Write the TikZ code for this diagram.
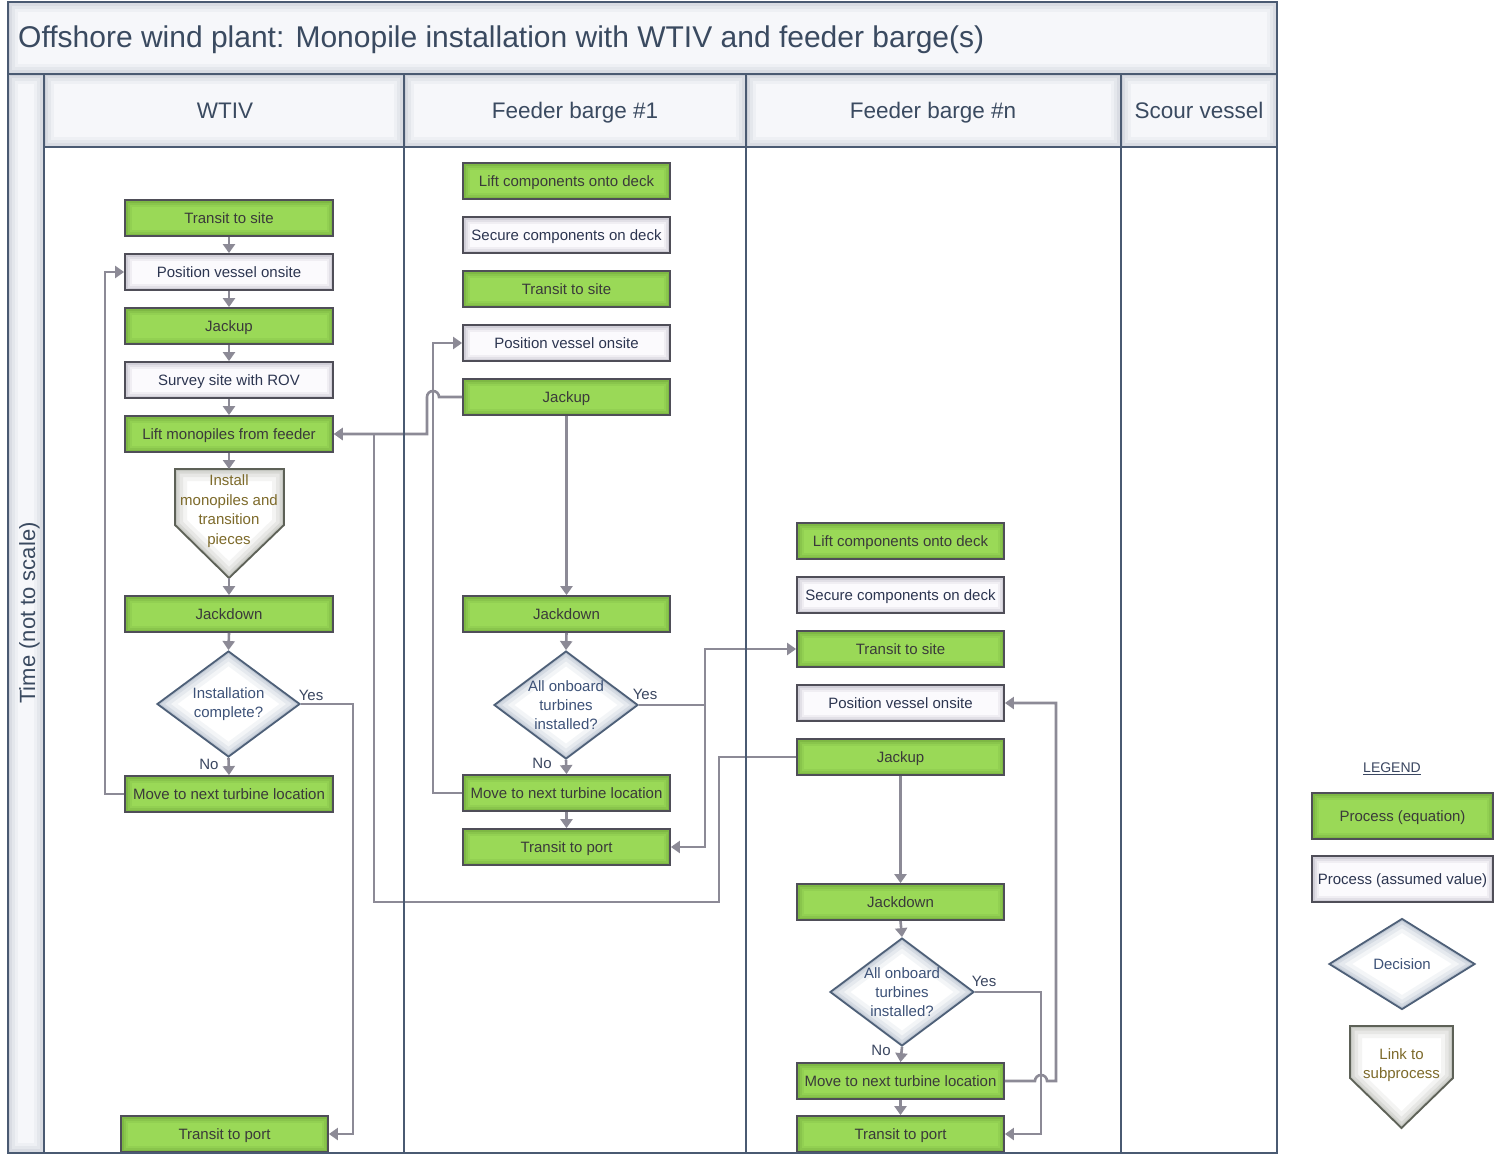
\documentclass[tikz,border=0pt]{standalone}
\usepackage{fontspec}
\setmainfont{Liberation Sans}
\usetikzlibrary{arrows.meta,shapes.geometric}
\definecolor{laneline}{HTML}{4A5A72}
\definecolor{hdrfill}{HTML}{F6F7FA}
\definecolor{hdrglow}{HTML}{7A8398}
\definecolor{titletext}{HTML}{3A4A60}
\definecolor{pgreen}{HTML}{9AD957}
\definecolor{pgreenglow}{HTML}{3F6A1A}
\definecolor{pgrey}{HTML}{FBFAFD}
\definecolor{pgreyglow}{HTML}{6F6882}
\definecolor{boxline}{HTML}{4F4E58}
\definecolor{greentext}{HTML}{3A3A3A}
\definecolor{greytext}{HTML}{2C3550}
\definecolor{decline}{HTML}{4E6078}
\definecolor{decglow}{HTML}{6F82A0}
\definecolor{dectext}{HTML}{3D5278}
\definecolor{linkline}{HTML}{5D6157}
\definecolor{linkglow}{HTML}{7C7E72}
\definecolor{linktext}{HTML}{7D6A2A}
\definecolor{connc}{HTML}{8C8A96}
\definecolor{labeltext}{HTML}{3A4660}
\tikzset{
  glow/.style={path picture={
    \foreach \w/\o in {13/.08,9/.1,5/.14,2/.2}{
      \draw[#1,line width=\w pt,opacity=\o] (path picture bounding box.south west) rectangle (path picture bounding box.north east);}}},
  hglow/.style={path picture={
    \foreach \w/\o in {20/.06,14/.08,8/.1,3/.14}{
      \draw[#1,line width=\w pt,opacity=\o] (path picture bounding box.south west) rectangle (path picture bounding box.north east);}}},
  dglow/.style={path picture={
    \foreach \w/\o in {24/.08,16/.1,9/.14,4/.2}{
      \draw[#1,line width=\w pt,opacity=\o,line join=miter] (path picture bounding box.north) -- (path picture bounding box.east) -- (path picture bounding box.south) -- (path picture bounding box.west) -- cycle;}}},
  box/.style={draw=boxline,line width=1.8pt,minimum width=208pt,minimum height=36pt,inner sep=0pt,text height=13pt,text depth=3pt,font=\fontsize{15}{18}\selectfont},
  gbox/.style={box,fill=pgreen,text=greentext,glow=pgreenglow},
  wbox/.style={box,fill=pgrey,text=greytext,glow=pgreyglow},
  decision/.style={diamond,draw=decline,line width=1.8pt,fill=white,dglow=decglow,inner sep=0pt,minimum width=144pt,minimum height=106pt},
  dtext/.style={text=dectext,font=\fontsize{15}{19}\selectfont,align=center},
  ltext/.style={text=linktext,font=\fontsize{15}{19.5}\selectfont,align=center,inner sep=0pt},
  cn/.style={draw=connc,line width=2.6pt},
  arr/.style={cn,-{Triangle[width=12pt,length=9pt]}},
  yn/.style={text=labeltext,font=\fontsize{15}{18}\selectfont,inner sep=0pt},
  lane/.style={draw=laneline,line width=2.6pt},
  hdr/.style={fill=hdrfill,hglow=hdrglow},
  hdrtext/.style={text=titletext,font=\fontsize{22.5}{26}\selectfont,anchor=base,inner sep=0pt}
}
\def\wlink{(175,469) -- (284,469) -- (284,525) -- (229,578) -- (175,525) -- cycle}
\def\llink{(1350,1026) -- (1453,1026) -- (1453,1078) -- (1401.5,1128) -- (1350,1078) -- cycle}
\begin{document}
\begin{tikzpicture}[x=1pt,y=-1pt]
\useasboundingbox (0,0) rectangle (1495,1156);
\fill[white] (0,0) rectangle (1495,1156);
% title and headers
\path[hdr] (8,2) rectangle (1277,74);
\path[hdr] (8,74) rectangle (44,1153);
\path[hdr] (44,74) rectangle (404,147);
\path[hdr] (404,74) rectangle (746,147);
\path[hdr] (746,74) rectangle (1121,147);
\path[hdr] (1121,74) rectangle (1277,147);
\node[anchor=base west,text=titletext,font=\fontsize{30}{34}\selectfont,inner sep=0pt] (title) at (18,48) {Offshore wind plant: Monopile installation with WTIV and feeder barge(s)};
\node[rotate=90,anchor=base,text=titletext,font=\fontsize{22}{26}\selectfont,inner sep=0pt] (time) at (35,613) {Time (not to scale)};
\node[hdrtext] (hw) at (225,118) {WTIV};
\node[hdrtext] (ha) at (575,118) {Feeder barge \#1};
\node[hdrtext] (hb) at (933,118) {Feeder barge \#n};
\node[hdrtext] (hs) at (1199,118) {Scour vessel};

% WTIV column
\node[gbox] (w1) at (229,218) {Transit to site};
\node[wbox] (w2) at (229,272) {Position vessel onsite};
\node[gbox] (w3) at (229,326) {Jackup};
\node[wbox] (w4) at (229,380) {Survey site with ROV};
\node[gbox] (w5) at (229,434) {Lift monopiles from feeder};
\begin{scope}
\clip \wlink;
\fill[white] \wlink;
\foreach \w/\o in {24/.08,16/.1,9/.14,4/.2}{\draw[linkglow,line width=\w pt,opacity=\o] \wlink;}
\end{scope}
\draw[linkline,line width=1.8pt,line join=miter] \wlink;
\coordinate (w6top) at (229,469);
\coordinate (w6tip) at (229,578);
\node[ltext] (w6) at (229,511) {Install\\monopiles and\\transition\\pieces};
\node[gbox] (w7) at (229,614) {Jackdown};
\node[decision,minimum width=143pt] (wd) at (228.5,704) {};
\node[dtext] (wdt) at (wd.center) {Installation\\complete?};
\node[gbox] (w8) at (229,794) {Move to next turbine location};
\node[gbox,minimum width=207pt] (w9) at (224.5,1134) {Transit to port};

% Feeder barge 1
\node[gbox,minimum width=207pt] (a1) at (566.5,181) {Lift components onto deck};
\node[wbox,minimum width=207pt] (a2) at (566.5,235) {Secure components on deck};
\node[gbox,minimum width=207pt] (a3) at (566.5,289) {Transit to site};
\node[wbox,minimum width=207pt] (a4) at (566.5,343) {Position vessel onsite};
\node[gbox,minimum width=207pt] (a5) at (566.5,397) {Jackup};
\node[gbox,minimum width=207pt] (a6) at (566.5,614) {Jackdown};
\node[decision,minimum height=108pt] (ad) at (566,705) {};
\node[dtext] (adt) at (ad.center) {All onboard\\turbines\\installed?};
\node[gbox,minimum width=207pt] (a7) at (566.5,793) {Move to next turbine location};
\node[gbox,minimum width=207pt] (a8) at (566.5,847) {Transit to port};

% Feeder barge n
\node[gbox,minimum width=207pt] (b1) at (900.5,541) {Lift components onto deck};
\node[wbox,minimum width=207pt] (b2) at (900.5,595) {Secure components on deck};
\node[gbox,minimum width=207pt] (b3) at (900.5,649) {Transit to site};
\node[wbox,minimum width=207pt] (b4) at (900.5,703) {Position vessel onsite};
\node[gbox,minimum width=207pt] (b5) at (900.5,757) {Jackup};
\node[gbox,minimum width=207pt] (b6) at (900.5,902) {Jackdown};
\node[decision,minimum height=108pt] (bd) at (902,992) {};
\node[dtext] (bdt) at (bd.center) {All onboard\\turbines\\installed?};
\node[gbox,minimum width=207pt] (b7) at (900.5,1081) {Move to next turbine location};
\node[gbox,minimum width=207pt] (b8) at (900.5,1134) {Transit to port};

% connectors WTIV
\draw[arr] (w1.south) -- (w2.north);
\draw[arr] (w2.south) -- (w3.north);
\draw[arr] (w3.south) -- (w4.north);
\draw[arr] (w4.south) -- (w5.north);
\draw[arr] (w5.south) -- (w6top);
\draw[arr] (w6tip) -- (w7.north);
\draw[arr] (w7.south) -- (wd.north);
\draw[arr] (wd.south) -- (w8.north);
\draw[arr] (w8.west) -- (105,794) |- (w2.west);
\draw[arr] (wd.east) -- (353,704) |- (w9.east);
% feeders -> WTIV
\draw[arr] (a5.west) -- (439,397) arc[start angle=0,end angle=180,radius=6pt] |- (w5.east);
\draw[arr] (b5.west) -- (719,757) -- (719,902) -- (374,902) |- (w5.east);
% feeder 1
\draw[arr] (a5.south) -- (a6.north);
\draw[arr] (a6.south) -- (ad.north);
\draw[arr] (ad.south) -- (a7.north);
\draw[arr] (a7.south) -- (a8.north);
\draw[arr] (a7.west) -- (433,793) |- (a4.west);
\coordinate (ay) at (705,705);
\draw[arr] (ad.east) -- (ay) |- (b3.west);
\draw[arr] (ay) |- (a8.east);
% feeder n
\draw[arr] (b5.south) -- (b6.north);
\draw[arr] (b6.south) -- (bd.north);
\draw[arr] (bd.south) -- (b7.north);
\draw[arr] (b7.south) -- (b8.north);
\draw[arr] (bd.east) -- (1041,992) |- (b8.east);
\draw[arr] (b7.east) -- (1035,1081) arc[start angle=180,end angle=0,radius=6pt] -- (1056,1081) |- (b4.east);

% yes/no labels
\node[yn] (y1) at (311,695) {Yes};
\node[yn] (n1) at (209,764) {No};
\node[yn] (y2) at (645,694) {Yes};
\node[yn] (n2) at (542,763) {No};
\node[yn] (y3) at (984,981) {Yes};
\node[yn] (n3) at (881,1050) {No};

% lanes
\draw[lane] (8,2) rectangle (1277,74);
\draw[lane] (8,74) rectangle (1277,1153);
\draw[lane] (44,74) -- (44,1153);
\draw[lane] (404,74) -- (404,1153);
\draw[lane] (746,74) -- (746,1153);
\draw[lane] (1121,74) -- (1121,1153);
\draw[lane] (44,147) -- (1277,147);

% legend
\node[text=labeltext,font=\fontsize{14}{16}\selectfont] (lg) at (1392,769) {\underline{LEGEND}};
\node[gbox,minimum width=181pt,minimum height=46pt] (lg1) at (1402.5,816) {Process (equation)};
\node[wbox,minimum width=181pt,minimum height=46pt] (lg2) at (1402.5,879) {Process (assumed value)};
\node[decision,minimum width=146pt,minimum height=91pt] (lg3) at (1402,964) {};
\node[dtext] (lg3t) at (lg3.center) {Decision};
\begin{scope}
\clip \llink;
\fill[white] \llink;
\foreach \w/\o in {24/.08,16/.1,9/.14,4/.2}{\draw[linkglow,line width=\w pt,opacity=\o] \llink;}
\end{scope}
\draw[linkline,line width=1.8pt,line join=miter] \llink;
\node[ltext] (lg4) at (1401.5,1065) {Link to\\subprocess};
\end{tikzpicture}
\end{document}
